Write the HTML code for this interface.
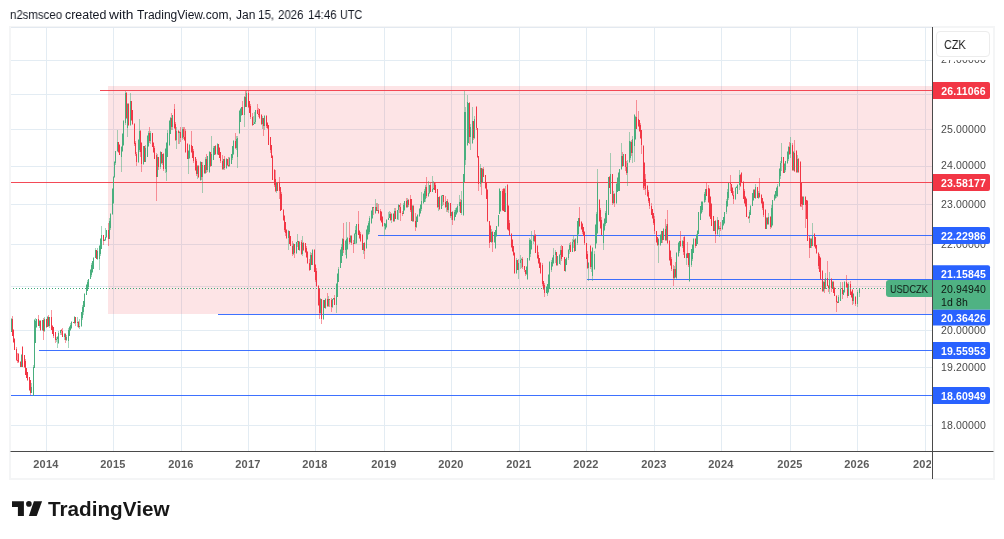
<!DOCTYPE html><html><head><meta charset="utf-8"><title>USDCZK chart</title><style>
html,body{margin:0;padding:0;background:#fff;}
body{width:1004px;height:539px;overflow:hidden;position:relative;font-family:"Liberation Sans",sans-serif;}
.t{position:absolute;white-space:nowrap;line-height:1;will-change:transform;}
#hdr{left:10px;top:9px;font-size:12px;color:#131722;letter-spacing:0px;}
#frame{position:absolute;left:9px;top:26px;width:982px;height:450px;border:2px solid #f4f5f6;}
.pl{left:934.5px;width:57px;text-align:center;font-size:10.5px;color:#4a4a4a;letter-spacing:0.15px;}
.pb{left:934.5px;width:57px;text-align:center;font-size:10.5px;color:#fff;font-weight:bold;letter-spacing:0.15px;}
.yr{font-size:11px;font-weight:bold;color:#5c5c5c;width:40px;text-align:center;top:459px;letter-spacing:0.25px;}
#czk{position:absolute;left:936px;top:31px;width:52px;height:24px;border:1px solid #ececec;border-radius:4px;background:#fff;}
#logo{left:48.2px;top:499.2px;font-size:20.6px;font-weight:bold;color:#171717;transform-origin:0 0;transform:scaleX(1.005);}
</style></head><body><div id="hdr" class="t" style="width:400px;height:14px"><span class="t" style="left:-0.3px;top:0;transform-origin:0 0;transform:scaleX(0.953)">n2smsceo</span><span class="t" style="left:54.6px;top:0;transform-origin:0 0;transform:scaleX(1.035)">created</span><span class="t" style="left:99.0px;top:0;transform-origin:0 0;transform:scaleX(1.148)">with</span><span class="t" style="left:126.9px;top:0;transform-origin:0 0;transform:scaleX(0.998)">TradingView.com,</span><span class="t" style="left:226.3px;top:0;transform-origin:0 0;transform:scaleX(0.986)">Jan</span><span class="t" style="left:247.9px;top:0;transform-origin:0 0;transform:scaleX(0.962)">15,</span><span class="t" style="left:268.4px;top:0;transform-origin:0 0;transform:scaleX(0.953)">2026</span><span class="t" style="left:297.7px;top:0;transform-origin:0 0;transform:scaleX(0.954)">14:46</span><span class="t" style="left:330.3px;top:0;transform-origin:0 0;transform:scaleX(0.899)">UTC</span></div><div id="frame"></div><div class="t pl" style="top:54.3px">27.00000</div><div class="t pl" style="top:123.6px">25.00000</div><div class="t pl" style="top:160.4px">24.00000</div><div class="t pl" style="top:198.8px">23.00000</div><div class="t pl" style="top:238.8px">22.00000</div><div class="t pl" style="top:324.7px">20.00000</div><div class="t pl" style="top:361.5px">19.20000</div><div class="t pl" style="top:419.6px">18.00000</div><svg width="1004" height="539" viewBox="0 0 1004 539" style="position:absolute;left:0;top:0"><defs><clipPath id="pane"><rect x="11" y="27" width="921" height="424"/></clipPath></defs><g clip-path="url(#pane)"><path d="M46.5 28V451M113.5 28V451M181.5 28V451M248.5 28V451M315.5 28V451M384.5 28V451M451.5 28V451M519.5 28V451M586.5 28V451M654.5 28V451M721.5 28V451M790.5 28V451M857.5 28V451M925.5 28V451M11 60.5H932M11 94.5H932M11 129.5H932M11 166.5H932M11 204.5H932M11 244.5H932M11 286.5H932M11 330.5H932M11 367.5H932M11 425.5H932" stroke="#e3ecf3" stroke-width="1" fill="none"/><path d="M11 27.5H932" stroke="#e3e9f0" stroke-width="1" fill="none"/><rect x="108" y="86" width="824" height="228" fill="#f23645" fill-opacity="0.135"/><path d="M100 90.5H932" stroke="#f23645" stroke-width="1.15" stroke-opacity="0.9" fill="none"/><path d="M11 182.5H932" stroke="#f23645" stroke-width="1.15" stroke-opacity="0.9" fill="none"/><path d="M378 235.5H932" stroke="#2962ff" stroke-width="1.15" stroke-opacity="0.9" fill="none"/><path d="M587 279.5H932" stroke="#2962ff" stroke-width="1.15" stroke-opacity="0.9" fill="none"/><path d="M218 314.5H932" stroke="#2962ff" stroke-width="1.15" stroke-opacity="0.9" fill="none"/><path d="M39 350.5H932" stroke="#2962ff" stroke-width="1.15" stroke-opacity="0.9" fill="none"/><path d="M11 395.5H932" stroke="#2962ff" stroke-width="1.15" stroke-opacity="0.9" fill="none"/><path d="M11.50 317.6V332.2M21.50 354.2V366.9M31.50 383.4V393.3M33.50 364.8V396.3M34.50 319.1V368.1M35.50 317.8V343.4M36.50 318.8V327.5M39.50 320.3V327.9M42.50 319.8V330.8M44.50 316.9V332.3M47.50 315.8V327.4M49.50 316.6V327.6M56.50 336.9V341.7M57.50 335.9V348.4M58.50 331.1V343.8M60.50 329.5V335.4M64.50 333.4V339.6M66.50 334.9V341.1M68.50 327.7V348.4M69.50 326.0V335.8M70.50 323.2V330.5M71.50 321.0V329.0M74.50 316.1V323.7M77.50 316.7V327.2M79.50 319.4V328.9M81.50 312.2V326.7M82.50 304.5V319.9M83.50 300.5V314.5M84.50 292.6V306.9M86.50 284.4V295.2M87.50 280.3V290.8M88.50 278.8V287.7M90.50 269.3V279.2M91.50 262.8V276.7M92.50 260.7V272.8M93.50 257.3V269.4M95.50 248.3V257.8M97.50 248.0V259.5M99.50 245.0V269.8M100.50 237.7V255.9M101.50 226.3V248.7M104.50 238.7V241.0M105.50 227.9V240.9M106.50 229.8V238.0M109.50 218.3V239.2M110.50 213.4V229.6M112.50 187.9V214.8M113.50 176.1V203.7M114.50 161.3V178.2M115.50 151.1V164.5M117.50 129.5V151.8M121.50 145.6V171.7M122.50 133.2V151.7M123.50 120.0V145.8M125.50 90.9V125.1M127.50 103.4V136.7M130.50 93.3V125.5M138.50 139.2V163.2M139.50 118.6V151.5M143.50 146.0V165.0M145.50 144.8V162.1M147.50 135.0V157.2M148.50 130.6V146.6M150.50 131.3V144.0M157.50 154.2V177.4M160.50 150.9V168.5M162.50 153.5V165.1M165.50 147.9V173.1M166.50 142.0V181.3M167.50 130.1V157.0M169.50 119.6V146.4M170.50 116.9V134.4M172.50 114.5V129.6M176.50 127.2V148.8M179.50 131.4V143.6M182.50 126.7V140.0M188.50 150.3V174.1M189.50 144.1V158.8M197.50 165.0V179.2M200.50 161.0V180.5M202.50 162.0V193.4M205.50 156.6V173.5M207.50 156.1V172.2M209.50 151.3V172.8M211.50 135.5V166.4M213.50 146.2V159.8M214.50 145.9V155.3M217.50 143.0V155.3M223.50 159.1V169.9M226.50 158.2V169.1M229.50 156.9V167.0M231.50 153.8V164.1M232.50 145.5V160.3M233.50 140.3V155.3M236.50 136.3V150.3M237.50 136.4V168.1M239.50 110.0V133.7M240.50 108.1V122.3M241.50 106.7V116.4M244.50 95.9V127.0M246.50 91.3V107.4M253.50 115.6V125.3M254.50 111.5V124.4M255.50 109.6V124.1M262.50 115.6V128.5M264.50 115.4V129.5M276.50 181.9V192.7M288.50 230.3V249.5M293.50 243.3V254.8M296.50 242.1V254.3M297.50 233.8V246.7M299.50 241.4V250.6M302.50 236.2V256.2M310.50 252.4V270.1M312.50 248.6V265.3M320.50 297.9V313.5M323.50 299.8V319.6M325.50 297.5V309.1M328.50 296.2V307.4M332.50 298.9V307.6M333.50 298.3V299.8M336.50 282.6V313.4M337.50 272.5V297.3M338.50 267.4V282.2M340.50 249.0V268.0M341.50 243.8V262.7M342.50 238.0V255.8M345.50 240.2V255.0M346.50 221.7V258.8M347.50 236.9V250.0M350.50 234.9V242.5M354.50 233.1V244.4M355.50 225.5V243.7M356.50 223.5V243.9M363.50 242.8V253.5M366.50 228.6V248.6M367.50 225.2V239.9M368.50 220.5V235.4M369.50 216.4V233.8M371.50 210.0V224.2M372.50 206.6V218.5M375.50 199.0V213.7M377.50 202.8V211.0M384.50 222.6V236.0M385.50 223.1V229.7M386.50 218.8V228.1M388.50 212.1V220.2M389.50 210.5V217.9M391.50 213.0V222.6M394.50 207.7V221.6M397.50 209.9V220.4M398.50 204.1V219.6M403.50 203.1V214.2M404.50 200.6V211.4M407.50 198.3V207.5M412.50 205.0V221.8M416.50 215.8V227.8M417.50 213.6V222.2M419.50 208.0V216.9M420.50 203.9V214.3M421.50 191.7V211.2M423.50 192.7V204.2M424.50 189.4V202.3M425.50 185.0V201.8M428.50 180.5V196.7M429.50 184.5V193.7M432.50 176.0V191.9M433.50 181.4V189.6M438.50 197.1V210.9M441.50 195.3V209.1M442.50 194.8V205.5M446.50 200.5V211.8M448.50 202.3V213.3M451.50 212.0V219.6M454.50 209.7V220.6M455.50 207.8V217.0M456.50 206.6V214.9M457.50 203.7V212.9M459.50 194.8V211.8M461.50 191.0V214.9M463.50 173.5V215.5M464.50 91.0V182.2M465.50 106.5V165.0M467.50 94.7V145.8M468.50 102.8V143.3M470.50 124.0V150.1M472.50 106.7V144.3M474.50 116.1V138.8M480.50 163.8V187.2M482.50 167.8V183.3M491.50 228.7V243.4M494.50 231.9V242.5M495.50 229.6V248.9M496.50 226.2V236.6M498.50 215.0V227.0M499.50 187.9V214.1M500.50 190.8V211.7M505.50 186.4V211.8M516.50 257.6V274.1M518.50 259.4V279.3M520.50 255.1V268.8M521.50 257.5V268.4M526.50 266.4V274.9M527.50 257.5V279.7M529.50 237.8V260.8M530.50 239.4V256.5M531.50 231.0V249.6M533.50 235.1V244.4M546.50 285.6V293.0M547.50 283.5V295.7M548.50 274.3V292.6M549.50 260.7V289.0M551.50 259.8V272.1M552.50 257.4V267.1M553.50 247.9V263.5M555.50 249.6V262.7M557.50 255.5V265.6M559.50 254.2V264.4M560.50 245.5V264.6M565.50 259.2V271.6M566.50 257.0V265.0M568.50 248.9V259.9M569.50 242.8V254.3M572.50 239.0V252.2M573.50 234.6V247.9M575.50 238.2V251.4M577.50 220.9V244.5M578.50 217.9V234.5M588.50 262.4V280.5M591.50 251.1V271.8M592.50 247.1V280.5M594.50 250.9V270.0M595.50 224.4V248.9M596.50 212.2V244.0M597.50 169.4V234.3M603.50 223.2V250.0M604.50 218.4V230.7M605.50 211.2V226.4M606.50 199.5V223.4M608.50 176.5V215.4M610.50 152.6V193.7M613.50 190.5V204.3M616.50 182.9V203.7M617.50 176.9V191.8M618.50 171.6V191.3M619.50 169.1V191.4M621.50 142.9V169.6M623.50 153.7V166.3M627.50 159.6V186.3M629.50 132.0V163.0M630.50 140.8V160.3M632.50 136.4V162.7M634.50 113.7V162.2M635.50 116.4V139.6M658.50 238.3V262.6M660.50 234.3V245.6M661.50 230.8V242.7M663.50 227.9V240.0M666.50 224.2V240.8M674.50 265.7V280.0M676.50 252.1V279.2M678.50 242.1V257.2M679.50 240.5V252.7M682.50 240.1V248.0M686.50 253.4V265.0M689.50 252.6V281.9M691.50 248.6V266.7M692.50 243.7V260.5M693.50 238.4V253.3M696.50 234.2V246.4M697.50 230.3V244.2M698.50 211.5V234.4M700.50 206.0V220.4M701.50 201.0V213.7M702.50 201.1V211.6M704.50 191.9V203.2M705.50 188.5V202.3M714.50 220.8V231.1M717.50 217.0V235.1M719.50 225.6V237.0M722.50 219.5V229.9M723.50 217.1V225.8M724.50 211.5V223.9M726.50 199.4V213.5M727.50 189.4V206.6M728.50 182.7V200.1M735.50 187.1V199.6M736.50 186.0V187.6M737.50 184.1V193.9M739.50 170.0V189.7M749.50 210.2V223.0M750.50 205.2V215.2M752.50 193.0V206.2M753.50 189.2V200.6M755.50 183.7V198.5M758.50 190.6V198.7M766.50 217.1V228.9M768.50 213.0V224.8M771.50 204.9V227.8M772.50 199.7V225.8M774.50 193.9V200.9M775.50 190.7V198.9M776.50 187.3V197.5M777.50 184.2V196.6M779.50 167.8V186.8M780.50 160.9V179.0M781.50 143.4V171.2M784.50 163.3V173.3M785.50 161.2V171.5M787.50 150.6V164.2M788.50 146.3V160.6M790.50 137.4V158.2M793.50 151.1V170.9M797.50 155.1V172.5M803.50 196.1V205.3M810.50 238.3V248.0M812.50 222.7V246.2M823.50 281.2V292.0M825.50 273.0V289.4M829.50 272.0V293.5M832.50 280.5V289.2M838.50 295.0V303.3M840.50 282.0V301.0M843.50 289.5V295.0M844.50 281.0V293.0M848.50 282.0V296.0M853.50 293.0V303.5M857.50 290.0V306.8M859.50 288.3V296.8" stroke="#49af7e" stroke-opacity="0.5" stroke-width="1" shape-rendering="crispEdges" fill="none"/><path d="M12.50 316.0V336.2M13.50 329.2V343.3M14.50 338.2V350.3M16.50 347.1V360.9M17.50 353.3V362.9M18.50 352.8V362.8M20.50 361.2V367.0M22.50 346.0V367.1M24.50 354.6V367.8M25.50 359.1V375.4M26.50 367.7V377.5M27.50 372.0V380.5M29.50 376.6V391.3M30.50 379.6V395.4M38.50 315.4V325.7M40.50 320.0V331.0M43.50 317.7V340.0M46.50 318.6V328.2M48.50 314.9V326.6M51.50 309.8V330.1M52.50 324.8V333.9M53.50 327.4V338.2M55.50 331.7V342.6M61.50 329.4V334.8M62.50 327.7V337.1M65.50 332.5V342.5M73.50 321.6V323.4M75.50 316.8V325.7M78.50 321.2V327.6M96.50 249.5V259.1M103.50 235.0V245.1M108.50 222.9V245.6M118.50 141.6V153.3M119.50 144.1V155.3M126.50 92.3V118.9M128.50 102.9V125.6M131.50 100.6V120.6M132.50 109.7V124.7M134.50 123.2V146.1M135.50 140.9V155.8M136.50 151.9V165.8M140.50 129.7V156.5M141.50 142.1V171.7M144.50 146.0V162.2M149.50 127.0V143.3M152.50 132.5V147.0M153.50 142.2V153.4M154.50 146.0V158.8M156.50 153.0V200.6M158.50 157.4V170.4M161.50 152.1V164.0M163.50 153.3V171.2M171.50 112.5V129.6M174.50 104.1V128.6M175.50 122.4V140.9M178.50 129.8V144.2M180.50 126.8V142.4M183.50 126.8V139.0M184.50 127.1V141.2M185.50 129.4V153.3M187.50 143.4V159.1M191.50 130.7V153.1M192.50 145.7V158.2M193.50 149.3V163.4M195.50 157.2V171.2M196.50 159.2V176.2M198.50 165.4V177.8M201.50 162.0V180.2M204.50 164.9V173.6M206.50 154.1V172.7M210.50 152.2V166.9M215.50 145.3V154.7M218.50 143.6V155.2M219.50 147.0V158.4M220.50 152.1V162.8M222.50 155.4V169.9M224.50 155.7V170.0M227.50 158.6V166.1M228.50 156.8V167.4M235.50 133.0V149.2M242.50 101.4V115.3M245.50 90.9V107.3M248.50 89.7V107.6M249.50 100.6V113.0M250.50 104.3V118.7M252.50 113.1V126.0M257.50 104.1V113.7M258.50 107.9V116.9M259.50 108.8V118.9M261.50 113.9V125.2M263.50 117.8V136.2M266.50 115.1V127.8M267.50 121.9V128.9M268.50 125.0V144.9M270.50 136.9V152.7M271.50 144.9V158.2M272.50 154.6V179.7M274.50 169.0V187.1M275.50 170.0V191.9M277.50 182.1V190.8M279.50 177.2V198.9M280.50 186.5V211.0M281.50 192.1V210.2M283.50 208.7V221.0M284.50 215.3V231.8M285.50 222.0V235.5M286.50 228.6V238.5M289.50 230.7V244.3M290.50 235.9V246.4M292.50 241.2V255.5M294.50 243.9V258.2M298.50 240.7V249.9M301.50 239.8V254.5M303.50 242.1V250.5M305.50 242.8V253.2M306.50 246.3V257.6M307.50 251.4V263.9M309.50 259.0V271.3M311.50 253.3V265.3M314.50 248.8V272.4M315.50 264.3V281.7M316.50 267.6V286.6M318.50 285.4V306.2M319.50 288.2V319.4M321.50 298.5V324.2M324.50 299.7V308.4M327.50 292.9V306.6M329.50 298.6V307.4M331.50 297.5V312.2M334.50 294.8V305.3M343.50 222.9V252.8M349.50 221.7V243.5M351.50 235.2V245.1M353.50 239.7V253.1M358.50 210.9V235.3M359.50 230.3V238.5M360.50 232.1V242.1M362.50 234.2V250.1M364.50 242.3V259.1M373.50 207.3V214.6M376.50 202.6V211.4M378.50 204.3V213.9M380.50 209.0V220.5M381.50 211.4V222.9M382.50 216.3V226.7M390.50 211.6V221.0M393.50 212.8V221.7M395.50 208.1V219.2M399.50 204.5V213.2M400.50 203.0V220.6M402.50 210.5V216.1M406.50 198.0V208.1M408.50 199.4V207.1M410.50 195.0V212.0M411.50 198.8V220.8M413.50 205.3V221.5M415.50 213.0V231.4M426.50 177.0V198.2M430.50 183.1V191.9M434.50 181.7V189.7M435.50 182.0V193.4M437.50 188.5V208.3M439.50 195.9V209.6M443.50 194.8V204.8M445.50 196.1V208.2M447.50 199.1V212.1M450.50 202.6V217.5M452.50 211.1V225.0M460.50 198.7V213.3M469.50 102.3V143.7M473.50 121.1V139.8M476.50 106.4V130.0M477.50 128.3V158.1M478.50 155.7V191.2M481.50 167.9V194.8M483.50 166.7V177.2M485.50 175.1V188.6M486.50 181.7V199.0M487.50 189.1V222.4M489.50 220.9V247.9M490.50 224.6V241.9M492.50 231.1V251.5M502.50 189.3V211.3M503.50 188.0V211.3M504.50 188.4V211.9M507.50 184.3V230.3M508.50 205.4V231.0M509.50 219.8V236.0M511.50 232.8V248.0M512.50 239.1V252.3M513.50 245.8V255.9M514.50 251.6V274.4M517.50 260.0V269.9M522.50 257.0V269.1M524.50 265.7V272.3M525.50 270.2V276.1M534.50 229.8V241.5M535.50 234.2V253.2M537.50 245.3V258.6M538.50 252.2V263.7M539.50 258.0V267.8M540.50 261.7V273.7M542.50 263.3V285.8M543.50 280.7V289.5M544.50 282.8V297.4M556.50 251.5V266.0M561.50 244.6V260.8M562.50 246.1V257.4M564.50 256.7V271.3M570.50 241.8V252.3M574.50 239.4V251.6M579.50 206.9V226.6M581.50 221.3V230.3M582.50 223.2V234.1M583.50 226.6V236.1M584.50 230.6V244.5M586.50 242.7V259.2M587.50 251.0V268.9M590.50 244.6V268.8M599.50 199.2V221.8M600.50 207.8V228.8M601.50 217.4V234.5M609.50 176.2V188.4M612.50 174.1V205.0M614.50 193.3V206.5M622.50 152.4V167.4M625.50 153.6V171.4M626.50 160.9V174.7M631.50 140.0V155.7M636.50 100.0V129.2M638.50 110.9V127.1M639.50 119.8V131.6M640.50 123.2V139.3M641.50 129.5V154.3M643.50 144.7V189.8M644.50 162.0V189.9M645.50 173.6V195.3M647.50 185.0V196.5M648.50 190.3V202.8M649.50 197.5V208.9M651.50 203.0V215.2M652.50 209.0V219.1M653.50 212.6V224.8M654.50 216.3V234.1M656.50 230.5V243.0M657.50 236.5V246.0M662.50 230.9V242.8M665.50 219.1V240.7M667.50 209.5V243.8M669.50 239.6V261.4M670.50 250.0V266.1M671.50 257.2V270.8M673.50 265.4V285.5M675.50 262.3V277.5M680.50 231.2V247.1M683.50 236.7V255.3M684.50 236.3V258.0M687.50 242.0V258.4M688.50 252.7V267.1M695.50 237.9V248.1M706.50 183.0V196.3M708.50 185.0V202.8M709.50 188.0V216.5M710.50 196.2V219.3M711.50 202.8V226.4M713.50 215.5V231.2M715.50 220.0V243.0M718.50 219.7V229.6M720.50 221.8V230.5M730.50 174.8V190.6M731.50 183.6V193.0M732.50 187.1V195.6M733.50 191.0V203.7M740.50 174.0V186.5M741.50 172.0V182.5M743.50 180.8V199.2M744.50 188.8V203.5M745.50 195.6V207.0M746.50 197.7V217.2M748.50 216.0V218.5M754.50 188.9V198.3M757.50 186.8V198.0M759.50 178.4V198.1M761.50 194.1V204.0M762.50 197.5V209.9M763.50 201.2V216.9M765.50 208.8V229.4M767.50 217.3V224.7M770.50 216.0V228.5M783.50 156.7V173.2M789.50 142.4V154.7M792.50 143.3V170.5M794.50 139.8V171.8M796.50 150.3V173.4M798.50 158.0V173.2M800.50 160.6V206.8M801.50 182.0V207.4M802.50 196.3V209.8M805.50 196.0V227.6M806.50 199.6V219.4M807.50 199.7V241.4M809.50 235.6V257.7M811.50 238.3V247.8M814.50 232.6V246.8M815.50 237.0V248.5M816.50 244.5V253.6M818.50 252.4V269.1M819.50 253.8V272.3M820.50 256.6V280.1M822.50 270.4V292.4M824.50 279.3V293.0M827.50 261.0V286.1M828.50 284.9V291.7M831.50 277.7V292.3M833.50 280.6V293.2M834.50 287.2V296.2M836.50 295.3V311.8M837.50 301.3V303.3M842.50 282.0V298.7M846.50 275.0V288.0M847.50 283.0V297.7M850.50 281.0V295.0M851.50 291.0V298.0M852.50 289.0V305.0M855.50 296.0V305.5" stroke="#f23645" stroke-opacity="0.5" stroke-width="1" shape-rendering="crispEdges" fill="none"/><path d="M11.50 319.2V332.1M21.50 355.1V366.5M31.50 386.9V392.9M33.50 366.5V395.5M34.50 319.5V367.7M35.50 321.0V343.2M36.50 318.9V326.6M39.50 320.6V325.7M42.50 320.0V330.0M44.50 319.2V330.6M47.50 317.4V327.3M49.50 317.1V325.9M56.50 338.7V340.3M57.50 336.8V338.7M58.50 333.1V342.7M60.50 329.7V333.1M64.50 333.5V336.7M66.50 336.6V340.3M68.50 329.8V340.5M69.50 326.8V335.6M70.50 324.6V329.7M71.50 321.7V327.8M74.50 317.0V322.7M77.50 321.7V323.1M79.50 326.2V327.2M81.50 312.3V326.2M82.50 306.7V318.1M83.50 300.6V312.3M84.50 294.2V306.8M86.50 284.6V294.9M87.50 281.8V290.5M88.50 279.2V286.7M90.50 270.2V279.2M91.50 265.2V274.8M92.50 261.3V271.7M93.50 257.7V268.9M95.50 249.5V257.7M97.50 251.3V258.7M99.50 245.6V258.6M100.50 238.5V254.2M101.50 235.4V248.6M104.50 239.6V240.6M105.50 237.2V239.6M106.50 230.1V237.2M109.50 221.0V238.9M110.50 214.3V228.2M112.50 188.6V214.3M113.50 176.9V203.4M114.50 162.1V176.9M115.50 151.3V162.8M117.50 141.9V151.3M121.50 146.5V157.3M122.50 134.1V150.8M123.50 121.0V145.1M125.50 93.3V123.4M127.50 104.1V128.3M130.50 101.4V125.1M138.50 139.8V161.5M139.50 130.7V150.0M143.50 146.1V164.4M145.50 148.3V161.9M147.50 135.5V157.2M148.50 132.6V146.3M150.50 132.7V141.4M157.50 157.4V176.5M160.50 152.2V166.6M162.50 154.3V163.2M165.50 148.6V169.3M166.50 142.7V171.7M167.50 132.5V156.8M169.50 121.0V145.1M170.50 117.8V133.9M172.50 115.0V126.5M176.50 130.5V140.3M179.50 131.9V132.9M182.50 128.8V138.3M188.50 151.1V158.7M189.50 144.7V157.8M197.50 165.9V173.5M200.50 162.0V180.1M202.50 165.3V176.5M205.50 159.1V173.0M207.50 156.3V170.3M209.50 152.4V171.7M211.50 153.9V166.1M213.50 147.8V159.8M214.50 146.1V155.3M217.50 143.6V153.9M223.50 159.1V169.4M226.50 158.8V168.4M229.50 157.6V166.4M231.50 154.4V163.6M232.50 146.4V158.3M233.50 140.6V154.3M236.50 138.5V148.4M237.50 137.9V157.2M239.50 111.4V133.1M240.50 108.8V121.6M241.50 106.8V115.2M244.50 96.7V115.1M246.50 92.6V106.8M253.50 124.1V125.1M254.50 122.4V124.1M255.50 110.2V122.4M262.50 118.4V123.7M264.50 115.7V126.3M276.50 182.7V191.0M288.50 230.8V237.8M293.50 244.3V253.9M296.50 242.4V253.3M297.50 241.4V242.4M299.50 242.1V249.6M302.50 242.8V253.6M310.50 255.4V270.1M312.50 250.1V264.5M320.50 298.6V313.4M323.50 300.0V318.7M325.50 299.1V308.3M328.50 299.0V305.8M332.50 299.3V306.9M333.50 298.3V299.3M336.50 284.3V304.7M337.50 273.6V296.5M338.50 269.1V281.7M340.50 249.5V267.6M341.50 246.8V262.5M342.50 239.1V255.5M345.50 240.6V249.5M346.50 238.6V257.9M347.50 237.7V249.4M350.50 236.1V242.3M354.50 233.7V244.2M355.50 230.4V233.7M356.50 224.1V243.4M363.50 243.4V249.8M366.50 230.2V248.3M367.50 226.0V239.4M368.50 223.0V234.1M369.50 218.0V231.9M371.50 210.7V222.5M372.50 207.4V217.5M375.50 206.7V213.1M377.50 209.8V210.8M384.50 223.1V226.4M385.50 223.5V229.1M386.50 220.2V227.3M388.50 217.6V220.2M389.50 213.6V217.6M391.50 213.8V220.3M394.50 211.3V220.9M397.50 210.0V218.6M398.50 204.8V210.0M403.50 204.8V213.8M404.50 201.0V210.1M407.50 199.8V206.6M412.50 205.6V220.6M416.50 216.6V226.9M417.50 214.6V221.5M419.50 208.8V216.0M420.50 204.8V213.4M421.50 200.5V209.3M423.50 194.0V203.3M424.50 191.0V201.9M425.50 186.8V198.9M428.50 193.1V196.1M429.50 184.7V193.1M432.50 188.7V191.6M433.50 187.7V188.7M438.50 197.4V207.4M441.50 196.4V208.6M442.50 195.4V196.4M446.50 201.4V207.3M448.50 203.2V210.4M451.50 212.1V216.1M454.50 211.9V219.9M455.50 209.6V216.5M456.50 207.5V214.1M457.50 205.7V212.3M459.50 202.0V205.7M461.50 199.8V212.6M463.50 174.3V215.0M464.50 111.5V181.5M465.50 111.7V160.0M467.50 101.9V145.3M468.50 103.1V142.9M470.50 127.0V136.5M472.50 121.2V142.9M474.50 118.9V137.8M480.50 167.9V183.9M482.50 168.7V182.1M491.50 231.5V241.7M494.50 232.0V242.2M495.50 229.8V247.9M496.50 226.2V236.1M498.50 215.0V226.4M499.50 188.7V214.0M500.50 191.0V210.5M505.50 193.3V211.7M516.50 260.3V273.2M518.50 262.7V269.5M520.50 259.7V262.7M521.50 258.7V259.7M526.50 266.5V274.4M527.50 257.6V279.3M529.50 239.5V260.0M530.50 240.0V254.4M531.50 241.2V248.9M533.50 235.7V241.2M546.50 286.6V292.6M547.50 283.5V294.3M548.50 274.5V292.0M549.50 262.4V288.9M551.50 261.5V270.1M552.50 258.3V266.0M553.50 255.1V262.8M555.50 252.4V255.1M557.50 255.5V265.2M559.50 254.7V263.7M560.50 249.5V254.7M565.50 259.4V270.9M566.50 257.8V264.9M568.50 249.6V258.0M569.50 244.7V249.6M572.50 241.9V252.0M573.50 239.6V241.9M575.50 238.6V251.1M577.50 221.4V243.1M578.50 218.4V234.0M588.50 263.3V268.0M591.50 251.9V267.2M592.50 247.9V275.6M594.50 254.0V268.8M595.50 225.0V247.9M596.50 213.9V243.1M597.50 182.7V233.4M603.50 223.8V243.0M604.50 219.1V230.1M605.50 212.5V224.0M606.50 199.6V222.6M608.50 176.7V215.0M610.50 174.3V193.6M613.50 194.2V203.0M616.50 183.7V203.4M617.50 178.4V191.5M618.50 173.0V191.0M619.50 169.4V191.2M621.50 156.0V169.4M623.50 153.8V165.7M627.50 162.7V172.9M629.50 140.5V162.2M630.50 141.7V158.3M632.50 138.9V152.8M634.50 114.5V145.8M635.50 117.3V138.9M658.50 239.0V245.4M660.50 234.9V245.3M661.50 231.0V242.6M663.50 228.8V239.7M666.50 225.5V240.3M674.50 269.3V278.2M676.50 252.9V278.2M678.50 243.1V255.8M679.50 240.8V251.0M682.50 240.9V245.5M686.50 253.5V257.7M689.50 252.9V280.6M691.50 249.4V264.6M692.50 244.7V259.3M693.50 238.6V253.2M696.50 234.9V245.8M697.50 231.2V243.8M698.50 211.9V233.6M700.50 206.4V220.2M701.50 202.1V213.2M702.50 201.5V210.1M704.50 193.9V202.2M705.50 189.3V199.7M714.50 221.4V230.7M717.50 220.2V233.6M719.50 227.6V229.2M722.50 220.1V228.6M723.50 217.4V225.3M724.50 212.1V222.6M726.50 200.5V212.2M727.50 191.7V205.6M728.50 183.4V198.3M735.50 187.6V199.2M736.50 186.6V187.6M737.50 184.8V193.5M739.50 174.8V184.8M749.50 211.5V217.7M750.50 206.0V214.9M752.50 193.4V206.0M753.50 189.6V199.8M755.50 187.3V197.6M758.50 192.8V197.6M766.50 218.0V228.8M768.50 216.9V224.2M771.50 207.5V227.2M772.50 199.8V225.0M774.50 194.7V200.1M775.50 191.3V197.7M776.50 188.4V196.2M777.50 185.9V196.3M779.50 168.6V185.9M780.50 162.5V176.2M781.50 156.9V162.5M784.50 164.1V172.5M785.50 161.4V170.3M787.50 152.2V162.6M788.50 147.2V159.1M790.50 143.2V154.2M793.50 152.1V170.0M797.50 158.9V172.4M803.50 196.6V205.1M810.50 238.8V247.7M812.50 235.5V245.6M823.50 282.2V291.0M825.50 278.4V288.7M829.50 278.6V287.5M832.50 281.5V288.2M838.50 296.7V302.5M840.50 289.3V300.6M843.50 290.3V294.5M844.50 281.5V292.2M848.50 284.0V295.8M853.50 293.8V300.6M857.50 291.9V303.9M859.50 288.3V292.5" stroke="#49af7e" stroke-width="1" shape-rendering="crispEdges" fill="none"/><path d="M12.50 319.0V336.0M13.50 329.5V341.8M14.50 338.9V349.9M16.50 349.0V359.7M17.50 359.7V361.1M18.50 354.2V362.2M20.50 362.2V366.5M22.50 347.2V366.5M24.50 354.9V367.0M25.50 360.6V375.0M26.50 367.8V377.5M27.50 372.0V380.2M29.50 377.2V389.5M30.50 379.8V392.9M38.50 318.9V325.7M40.50 320.6V330.0M43.50 320.0V330.6M46.50 319.2V327.3M48.50 317.4V325.9M51.50 317.1V330.1M52.50 325.6V333.8M53.50 327.4V336.1M55.50 332.0V340.3M61.50 329.7V331.2M62.50 331.2V336.7M65.50 333.5V340.3M73.50 321.7V322.7M75.50 317.0V323.1M78.50 321.7V327.2M96.50 249.5V258.7M103.50 235.4V240.6M108.50 230.1V238.9M118.50 141.9V152.4M119.50 144.7V155.2M126.50 93.3V118.0M128.50 104.1V125.1M131.50 101.4V119.7M132.50 110.1V124.1M134.50 124.1V143.7M135.50 143.2V154.3M136.50 154.3V161.5M140.50 130.7V151.9M141.50 142.7V164.4M144.50 146.1V161.9M149.50 132.6V141.4M152.50 132.7V146.7M153.50 142.9V152.1M154.50 148.2V158.5M156.50 154.8V176.5M158.50 157.4V166.6M161.50 152.2V163.2M163.50 154.3V169.3M171.50 117.8V126.5M174.50 109.0V128.3M175.50 124.0V140.3M178.50 130.5V132.9M180.50 131.9V138.3M183.50 128.8V137.1M184.50 137.1V140.4M185.50 130.7V152.4M187.50 143.5V158.7M191.50 144.7V152.2M192.50 145.9V157.8M193.50 150.6V160.8M195.50 157.4V170.4M196.50 160.6V173.5M198.50 165.9V177.3M201.50 162.0V176.5M204.50 165.3V173.0M206.50 159.1V170.3M210.50 152.4V166.1M215.50 146.1V153.9M218.50 143.6V154.9M219.50 148.1V157.6M220.50 152.1V160.8M222.50 160.8V169.4M224.50 159.1V168.4M227.50 158.8V165.4M228.50 165.4V166.4M235.50 140.6V148.4M242.50 106.8V115.1M245.50 96.7V106.8M248.50 92.6V107.4M249.50 101.4V112.5M250.50 105.7V117.2M252.50 117.2V125.1M257.50 110.2V113.6M258.50 113.6V114.6M259.50 109.2V118.4M261.50 115.3V123.7M263.50 118.4V126.3M266.50 115.7V125.9M267.50 122.5V127.6M268.50 125.3V144.6M270.50 137.4V150.4M271.50 145.4V157.7M272.50 155.5V179.6M274.50 169.6V185.1M275.50 178.9V191.0M277.50 182.7V190.5M279.50 182.4V191.1M280.50 186.9V211.0M281.50 194.1V209.9M283.50 209.9V220.2M284.50 215.6V229.7M285.50 222.3V233.4M286.50 229.6V237.8M289.50 230.8V243.9M290.50 236.1V246.3M292.50 246.3V253.9M294.50 244.3V253.3M298.50 241.4V249.6M301.50 242.1V253.6M303.50 242.8V249.7M305.50 242.9V252.3M306.50 247.7V257.4M307.50 252.3V263.1M309.50 263.1V270.1M311.50 255.4V264.5M314.50 250.1V272.3M315.50 264.9V280.1M316.50 270.9V286.0M318.50 286.0V305.4M319.50 289.3V313.4M321.50 298.6V318.7M324.50 300.0V308.3M327.50 299.1V305.8M329.50 299.0V300.0M331.50 300.0V306.9M334.50 298.3V304.7M343.50 239.1V249.5M349.50 237.7V242.3M351.50 236.1V242.7M353.50 242.7V243.7M358.50 224.1V235.3M359.50 231.2V238.1M360.50 234.3V241.1M362.50 235.1V249.8M364.50 243.4V251.3M373.50 207.4V208.4M376.50 206.7V210.8M378.50 209.8V213.4M380.50 210.5V219.8M381.50 212.2V222.0M382.50 217.0V226.4M390.50 213.6V220.3M393.50 213.8V220.9M395.50 211.3V218.6M399.50 204.8V206.7M400.50 206.7V212.6M402.50 212.6V213.6M406.50 201.0V206.6M408.50 199.8V204.7M410.50 198.5V210.3M411.50 199.0V220.6M413.50 205.6V220.6M415.50 220.6V226.9M426.50 186.8V196.1M430.50 184.7V191.6M434.50 181.9V189.5M435.50 184.5V192.5M437.50 189.0V207.4M439.50 197.4V208.6M443.50 195.4V202.0M445.50 202.0V207.3M447.50 201.4V210.4M450.50 203.2V216.1M452.50 212.1V219.9M460.50 202.0V212.6M469.50 103.1V136.5M473.50 121.2V137.8M476.50 106.7V128.4M477.50 128.4V157.4M478.50 156.2V183.9M481.50 167.9V182.1M483.50 168.7V176.9M485.50 175.4V188.3M486.50 182.2V199.0M487.50 190.0V221.4M489.50 221.4V243.1M490.50 225.6V241.7M492.50 231.5V242.2M502.50 191.0V209.8M503.50 188.7V210.5M504.50 188.7V211.7M507.50 185.0V228.6M508.50 205.6V230.2M509.50 222.6V235.0M511.50 233.5V247.1M512.50 239.8V250.5M513.50 245.9V255.2M514.50 252.7V273.2M517.50 260.3V269.5M522.50 258.7V267.2M524.50 266.2V270.4M525.50 270.4V274.4M534.50 235.7V240.8M535.50 234.6V252.7M537.50 245.8V257.9M538.50 254.6V262.6M539.50 258.4V267.5M540.50 262.5V272.9M542.50 264.8V284.1M543.50 280.9V288.5M544.50 284.5V292.6M556.50 252.4V265.2M561.50 249.5V258.8M562.50 246.4V257.2M564.50 257.2V270.9M570.50 244.7V252.0M574.50 239.6V251.1M579.50 218.4V225.6M581.50 221.5V228.6M582.50 224.2V231.9M583.50 226.9V235.7M584.50 231.9V243.3M586.50 243.3V258.8M587.50 253.6V268.0M590.50 245.5V267.2M599.50 199.6V221.4M600.50 210.2V227.9M601.50 219.9V234.5M609.50 176.7V187.9M612.50 174.3V203.0M614.50 194.2V203.4M622.50 156.0V165.7M625.50 153.8V166.8M626.50 166.8V172.9M631.50 141.7V152.8M636.50 117.3V128.8M638.50 118.7V126.2M639.50 120.4V131.4M640.50 125.3V138.4M641.50 130.4V144.5M643.50 145.8V188.1M644.50 162.5V186.2M645.50 179.0V189.0M647.50 186.4V196.0M648.50 192.1V201.1M649.50 197.5V206.2M651.50 205.6V215.2M652.50 209.2V218.3M653.50 213.4V222.5M654.50 218.6V231.4M656.50 230.7V241.6M657.50 236.7V245.4M662.50 231.0V239.7M665.50 228.8V240.3M667.50 224.0V243.3M669.50 240.8V260.1M670.50 250.7V265.4M671.50 259.2V269.4M673.50 269.4V278.2M675.50 269.3V277.2M680.50 240.8V245.5M683.50 240.9V251.8M684.50 237.2V257.7M687.50 252.9V257.7M688.50 253.3V265.2M695.50 238.6V245.8M706.50 189.3V195.6M708.50 188.3V201.9M709.50 189.0V215.8M710.50 196.9V219.1M711.50 203.7V226.4M713.50 216.4V230.7M715.50 221.4V233.6M718.50 220.2V229.2M720.50 227.6V228.6M730.50 183.4V184.4M731.50 184.4V192.5M732.50 187.6V195.4M733.50 195.4V199.2M740.50 174.8V185.5M741.50 172.5V182.0M743.50 182.0V199.0M744.50 190.9V202.5M745.50 197.0V206.1M746.50 199.0V216.7M748.50 216.7V217.7M754.50 189.6V197.6M757.50 187.3V197.6M759.50 192.8V196.9M761.50 194.7V203.0M762.50 198.3V207.8M763.50 202.0V214.5M765.50 209.5V228.8M767.50 218.0V224.2M770.50 216.9V227.2M783.50 156.9V172.5M789.50 147.2V154.2M792.50 144.6V170.0M794.50 153.0V171.0M796.50 150.7V172.4M798.50 158.9V172.0M800.50 161.5V206.0M801.50 182.6V203.7M802.50 196.9V205.1M805.50 196.6V205.4M806.50 200.4V218.9M807.50 201.0V240.8M809.50 237.6V247.7M811.50 238.8V245.6M814.50 233.5V245.8M815.50 237.3V248.1M816.50 244.6V253.4M818.50 253.4V266.4M819.50 255.5V271.7M820.50 257.7V279.4M822.50 271.0V291.0M824.50 282.2V288.7M827.50 278.4V285.6M828.50 285.6V287.5M831.50 278.6V288.2M833.50 281.5V292.9M834.50 287.5V296.1M836.50 296.0V301.5M837.50 301.5V302.5M842.50 288.0V293.8M846.50 281.8V287.0M847.50 284.0V295.8M850.50 284.0V294.5M851.50 292.0V297.0M852.50 290.0V301.0M855.50 296.8V303.9" stroke="#f23645" stroke-width="1" shape-rendering="crispEdges" fill="none"/><path d="M10 288.5H886" stroke="#3aa876" stroke-width="1" stroke-dasharray="1 2" fill="none"/><path d="M889 280H932V297H889a3 3 0 0 1 -3 -3V283a3 3 0 0 1 3 -3z" fill="#4fb283"/></g><path d="M932.5 27V479M10.5 451.5H993.5" stroke="#4a4a4a" stroke-width="1" fill="none"/><path d="M933 82.0H988A2 2 0 0 1 990 84.0V97.0A2 2 0 0 1 988 99.0H933z" fill="#f23645"/><path d="M933 174.0H988A2 2 0 0 1 990 176.0V189.0A2 2 0 0 1 988 191.0H933z" fill="#f23645"/><path d="M933 227.0H988A2 2 0 0 1 990 229.0V242.0A2 2 0 0 1 988 244.0H933z" fill="#2962ff"/><path d="M933 265.3H988A2 2 0 0 1 990 267.3V280.0H933z" fill="#2962ff"/><path d="M933 280.0H990V309.8H933z" fill="#4fb283"/><path d="M933 309.8H990V323.5A2 2 0 0 1 988 325.5H933z" fill="#2962ff"/><path d="M933 342.0H988A2 2 0 0 1 990 344.0V357.0A2 2 0 0 1 988 359.0H933z" fill="#2962ff"/><path d="M933 387.0H988A2 2 0 0 1 990 389.0V402.0A2 2 0 0 1 988 404.0H933z" fill="#2962ff"/><path d="M12 501.2H23.9V515.9H17.9V507.1H12z" fill="#171717"/><circle cx="28.9" cy="503.9" r="2.8" fill="#171717"/><path d="M33.9 501.2H42.1L36.7 515.9H28.9z" fill="#171717"/></svg><div class="t pb" style="top:86.1px">26.11066</div><div class="t pb" style="top:178.1px">23.58177</div><div class="t pb" style="top:231.1px">22.22986</div><div class="t pb" style="top:269.2px">21.15845</div><div class="t pb" style="top:313.3px">20.36426</div><div class="t pb" style="top:346.1px">19.55953</div><div class="t pb" style="top:391.1px">18.60949</div><div class="t pl" style="top:283.5px;color:#0e1712">20.94940</div><div class="t pl" style="top:297px;color:#0e1712;text-align:left;left:941px">1d 8h</div><div class="t" style="left:890px;top:283.6px;font-size:10.5px;color:#0e1712;transform-origin:0 0;transform:scaleX(0.875)">USDCZK</div><div style="position:absolute;left:933px;top:28px;width:60px;height:32px;background:#fff"></div><div id="czk"></div><div class="t" style="left:944.3px;top:39.1px;font-size:12px;color:#1c1c1c;transform-origin:0 0;transform:scaleX(0.90)">CZK</div><div class="t yr" style="left:26.2px">2014</div><div class="t yr" style="left:93.2px">2015</div><div class="t yr" style="left:161.2px">2016</div><div class="t yr" style="left:228.2px">2017</div><div class="t yr" style="left:295.2px">2018</div><div class="t yr" style="left:364.2px">2019</div><div class="t yr" style="left:431.2px">2020</div><div class="t yr" style="left:499.2px">2021</div><div class="t yr" style="left:566.2px">2022</div><div class="t yr" style="left:634.2px">2023</div><div class="t yr" style="left:701.2px">2024</div><div class="t yr" style="left:770.2px">2025</div><div class="t yr" style="left:837.2px">2026</div><div class="t yr" style="left:913px;width:18.4px;overflow:hidden;text-align:left">2027</div><div id="logo" class="t">TradingView</div></body></html>
